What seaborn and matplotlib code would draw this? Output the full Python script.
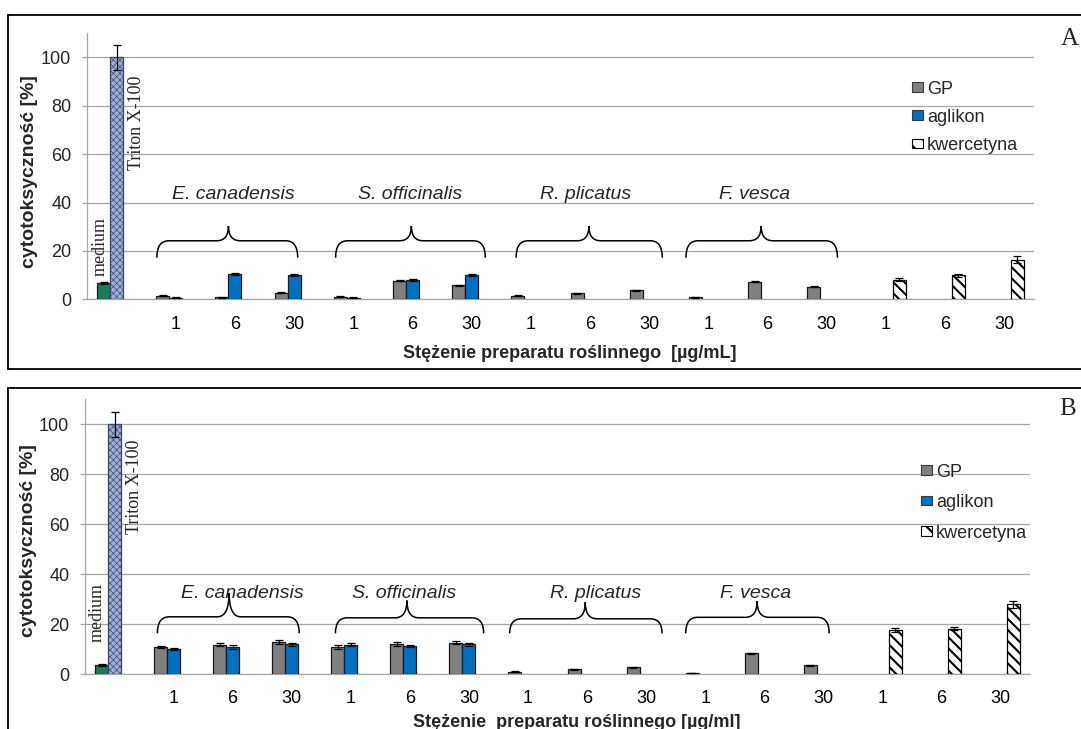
import numpy as np
import pandas as pd
import matplotlib
matplotlib.use("Agg")
import matplotlib.pyplot as plt
from matplotlib.patches import Patch, PathPatch
from matplotlib.path import Path
from matplotlib.lines import Line2D
import seaborn as sns

# ---------------- data ----------------
species = ["E. canadensis", "S. officinalis", "R. plicatus", "F. vesca"]
doses = ["1", "6", "30"]
series = ["GP", "aglikon", "kwercetyna"]

# panel A
medium_A, medium_err_A = 6.8, 0.4
triton_A, triton_err_A = 100.0, 5.0
gp_A = [1.4, 0.8, 2.8, 1.0, 7.7, 5.8, 1.4, 2.4, 3.7, 0.8, 7.3, 5.2]
gp_err_A = [0.2, 0.2, 0.2, 0.2, 0.3, 0.3, 0.2, 0.2, 0.3, 0.2, 0.3, 0.2]
agl_A = [0.7, 10.4, 10.0, 0.7, 8.0, 10.1]
agl_err_A = [0.1, 0.4, 0.3, 0.1, 0.3, 0.5]
kw_A = [8.1, 9.9, 16.4]
kw_err_A = [0.7, 0.7, 1.3]

# panel B
medium_B, medium_err_B = 3.7, 0.3
triton_B, triton_err_B = 100.0, 5.0
gp_B = [10.9, 11.9, 12.8, 10.9, 12.0, 12.7, 1.1, 2.1, 2.8, 0.5, 8.4, 3.6]
gp_err_B = [0.5, 0.6, 0.8, 0.8, 0.8, 0.7, 0.1, 0.2, 0.2, 0.1, 0.3, 0.2]
agl_B = [10.1, 10.8, 12.0, 11.9, 11.4, 12.0]
agl_err_B = [0.4, 0.8, 0.7, 0.5, 0.4, 0.7]
kw_B = [17.9, 18.3, 28.0]
kw_err_B = [0.8, 0.7, 1.3]

order = ["ctrl"] + [f"{sp} {d}" for sp in species for d in doses] + [f"kwercetyna {d}" for d in doses]

# ---------------- style ----------------
sns.set_style("white")
plt.rcParams["font.family"] = ["Liberation Sans", "DejaVu Sans"]
plt.rcParams["hatch.linewidth"] = 1.5

GP_C = "#808080"
AGL_C = "#0070C0"
MEDIUM_C = "#1F7A5C"
TRITON_C = "#9DACD2"
GRID_C = "#A6A6A6"
EDGE_C = "#1A1A1A"
SERIF = ["Liberation Serif", "DejaVu Serif"]
palette = {"GP": GP_C, "aglikon": AGL_C, "kwercetyna": "white"}
WIDTH = 0.66


def build_frame(medium, medium_err, triton, triton_err, gp, gp_err, agl, agl_err, kw, kw_err):
    rows = [("ctrl", "GP", medium, medium_err), ("ctrl", "aglikon", triton, triton_err)]
    for i, sp in enumerate(species):
        for j, d in enumerate(doses):
            k = i * 3 + j
            rows.append((f"{sp} {d}", "GP", gp[k], gp_err[k]))
            if k < len(agl):
                rows.append((f"{sp} {d}", "aglikon", agl[k], agl_err[k]))
    for j, d in enumerate(doses):
        rows.append((f"kwercetyna {d}", "kwercetyna", kw[j], kw_err[j]))
    return pd.DataFrame(rows, columns=["kat", "seria", "wartosc", "blad"])


def brace(ax, x0, x1, xm, y_tip, y_line, y_peak, r=0.2):
    verts = [(x0, y_tip), (x0, y_line), (x0 + r, y_line),
             (xm - r, y_line), (xm, y_line), (xm, y_peak),
             (xm, y_line), (xm + r, y_line),
             (x1 - r, y_line), (x1, y_line), (x1, y_tip)]
    codes = [Path.MOVETO, Path.CURVE3, Path.CURVE3,
             Path.LINETO, Path.CURVE3, Path.CURVE3,
             Path.CURVE3, Path.CURVE3,
             Path.LINETO, Path.CURVE3, Path.CURVE3]
    ax.add_patch(PathPatch(Path(verts, codes), fill=False, edgecolor="black",
                           lw=1.1, clip_on=False, zorder=4))


def draw_panel(ax, df, xlabel, xlabel_pos, ylabel_pos, labels_xy, braces, notes,
               legend_anchor, legend_spacing, tick_pad):
    sns.barplot(data=df, x="kat", y="wartosc", hue="seria", order=order,
                hue_order=series, palette=palette, width=WIDTH, gap=0,
                saturation=1, errorbar=None, edgecolor=EDGE_C, linewidth=0.9,
                legend=False, ax=ax, zorder=3)

    bar_w = WIDTH / 3
    lookup = {}
    for _, r in df.iterrows():
        lookup[(order.index(r.kat), series.index(r.seria))] = r.blad
    for p in list(ax.patches):
        if p.get_width() <= 0:
            continue
        cx = p.get_x() + p.get_width() / 2
        ci = int(round(cx))
        si = int(round((cx - ci) / bar_w)) + 1
        if (ci, si) not in lookup:
            continue
        err = lookup[(ci, si)]
        if ci == 0 and si == 0:
            p.set_facecolor(MEDIUM_C)
        elif ci == 0 and si == 1:
            p.set_facecolor(TRITON_C)
            p.set_edgecolor("#3B4668")
            p.set_hatch("xxxxx")
            if hasattr(p, "set_hatch_linewidth"):
                p.set_hatch_linewidth(0.45)
        elif si == 2:
            p.set_facecolor("white")
            p.set_edgecolor("black")
            p.set_hatch("\\\\\\")
        ax.errorbar(cx, p.get_height(), yerr=err, fmt="none", ecolor="black",
                    elinewidth=0.9, capsize=3.2, capthick=0.9, zorder=5)

    ax.set_xlim(-0.5, 15.5)
    ax.set_ylim(0, 110)
    ax.set_yticks(range(0, 101, 20))
    ax.set_xticks(np.arange(-0.5, 16, 1))
    ax.set_xticklabels([])
    ax.set_xticks(np.arange(16), minor=True)
    ax.set_xticklabels([""] + doses * 5, minor=True)
    ax.tick_params(axis="x", which="major", direction="inout", length=8.6,
                   color=GRID_C, width=0.9)
    ax.tick_params(axis="x", which="minor", length=0, pad=tick_pad,
                   labelsize=13, colors="black")
    ax.tick_params(axis="y", direction="out", length=3.8, color=GRID_C,
                   width=0.9, pad=7.5, labelsize=13, left=True)
    ax.yaxis.grid(True, color=GRID_C, lw=0.9, zorder=0)
    ax.xaxis.grid(False)
    ax.set_axisbelow(True)
    for s in ("top", "right"):
        ax.spines[s].set_visible(False)
    for s in ("left", "bottom"):
        ax.spines[s].set_color(GRID_C)
        ax.spines[s].set_linewidth(0.9)

    ax.set_xlabel(xlabel, fontsize=13, fontweight="bold")
    ax.xaxis.label.set_va("center")
    ax.xaxis.set_label_coords(*xlabel_pos)
    ax.set_ylabel("cytotoksyczność [%]", fontsize=14, fontweight="bold")
    ax.yaxis.label.set_va("center")
    ax.yaxis.set_label_coords(*ylabel_pos)

    for sp, (x, y) in zip(species, labels_xy):
        ax.text(x, y, sp, fontsize=14, style="italic", ha="center", va="center", zorder=4)
    for b in braces:
        brace(ax, *b)
    for txt, (x, y) in notes:
        ax.text(x, y, txt, rotation=90, family=SERIF, fontsize=13,
                ha="center", va="center", zorder=4)

    handles = [Patch(facecolor=GP_C, edgecolor="#3A3A3A", lw=0.8),
               Patch(facecolor=AGL_C, edgecolor="#3A3A3A", lw=0.8),
               Patch(facecolor="white", edgecolor="black", lw=0.8, hatch="\\\\")]
    ax.legend(handles, series, loc="upper left", bbox_to_anchor=legend_anchor,
              bbox_transform=ax.figure.transFigure, frameon=False, fontsize=13,
              handlelength=0.62, handleheight=0.45, handletextpad=0.2,
              labelspacing=legend_spacing, borderpad=0, borderaxespad=0)


W, H = 1081, 729
fig = plt.figure(figsize=(W / 100, H / 100), dpi=100)
ax_a = fig.add_axes([87 / W, 1 - 299.3 / H, 947 / W, 266 / H])
ax_b = fig.add_axes([85 / W, 1 - 674.4 / H, 945 / W, 275.4 / H])

df_a = build_frame(medium_A, medium_err_A, triton_A, triton_err_A, gp_A, gp_err_A,
                   agl_A, agl_err_A, kw_A, kw_err_A)
df_b = build_frame(medium_B, medium_err_B, triton_B, triton_err_B, gp_B, gp_err_B,
                   agl_B, agl_err_B, kw_B, kw_err_B)

draw_panel(ax_a, df_a, "Stężenie preparatu roślinnego  [µg/mL]",
           (0.510, -0.2045), (-0.0612, 0.482),
           [(1.97, 43.2), (4.95, 43.2), (7.93, 43.2), (10.78, 43.2)],
           [(0.68, 3.06, 1.89, 17.2, 24.2, 30.3),
            (3.70, 6.23, 4.98, 17.2, 24.2, 30.3),
            (6.75, 9.22, 7.98, 17.2, 24.2, 30.3),
            (9.62, 12.18, 10.89, 17.2, 24.2, 30.3)],
           [("medium", (-0.28, 21.7)), ("Triton X-100", (0.344, 72.8))],
           (912 / W, 1 - 80.5 / H), 0.62, 12)

draw_panel(ax_b, df_b, "Stężenie  preparatu roślinnego [µg/ml]",
           (0.5206, -0.173), (-0.0593, 0.485),
           [(2.16, 32.5), (4.91, 32.5), (8.14, 32.5), (10.86, 32.5)],
           [(0.725, 3.127, 1.94, 16.4, 23.0, 32.5),
            (3.74, 6.25, 4.95, 16.4, 22.6, 29.5),
            (6.69, 9.27, 7.97, 16.4, 22.2, 28.8),
            (9.67, 12.10, 10.88, 16.4, 22.8, 29.2)],
           [("medium", (-0.30, 24.6)), ("Triton X-100", (0.34, 74.8))],
           (921 / W, 1 - 463.5 / H), 0.75, 11)

# panel frames and letters
frame_kw = dict(color="black", lw=1.3, transform=fig.transFigure)
x_left = 7.6 / W
fig.add_artist(Line2D([x_left, 1.0], [1 - 15 / H, 1 - 15 / H], **frame_kw))
fig.add_artist(Line2D([x_left, x_left], [1 - 15 / H, 1 - 368.5 / H], **frame_kw))
fig.add_artist(Line2D([x_left, 1.0], [1 - 368.5 / H, 1 - 368.5 / H], **frame_kw))
fig.add_artist(Line2D([x_left, 1.0], [1 - 388 / H, 1 - 388 / H], **frame_kw))
fig.add_artist(Line2D([x_left, x_left], [1 - 388 / H, 0.0], **frame_kw))

fig.text(1070 / W, 1 - 39 / H, "A", family=SERIF, fontsize=18, ha="center", va="center")
fig.text(1068 / W, 1 - 409 / H, "B", family=SERIF, fontsize=18, ha="center", va="center")

fig.savefig("out.png", dpi=100)
